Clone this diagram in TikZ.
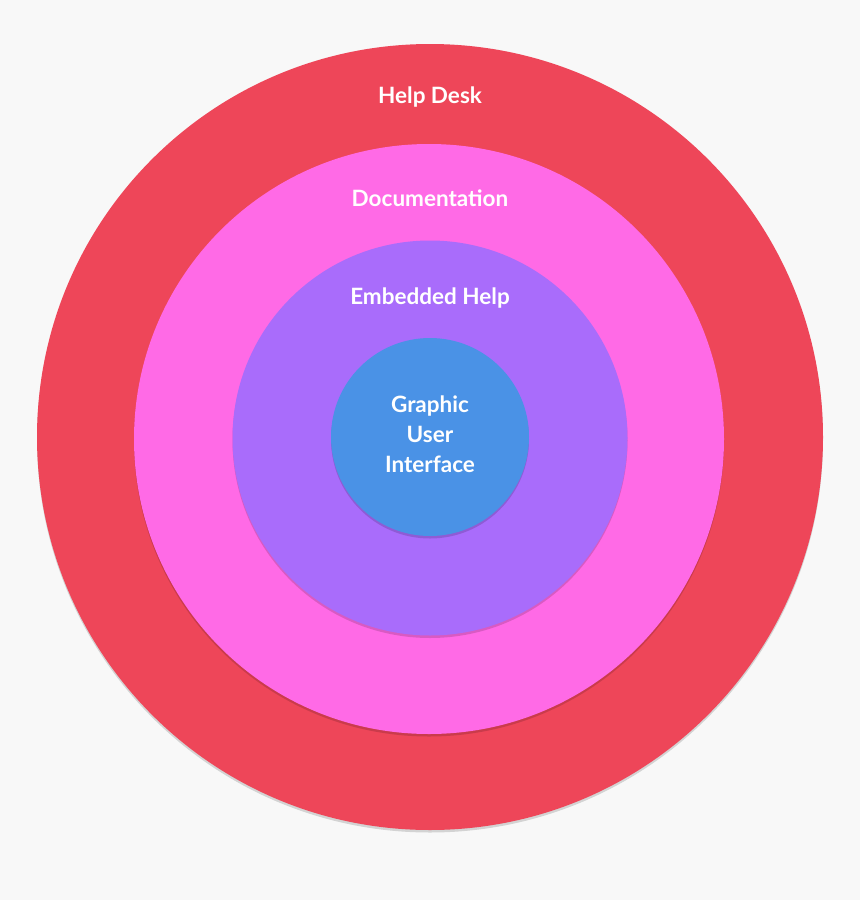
\documentclass[tikz,border=0pt]{standalone}
\usepackage{fontspec}
\setmainfont{Lato}
\usepackage{xcolor}
\usepackage{tikz}
\usetikzlibrary{shadows}

\definecolor{bgGray}{HTML}{F8F8F8}
\definecolor{deskRed}{HTML}{EE4659}
\definecolor{docPink}{HTML}{FF6AE6}
\definecolor{embPurple}{HTML}{A96CFB}
\definecolor{guiBlue}{HTML}{4A92E6}

\begin{document}
\begin{tikzpicture}[
  x=1pt, y=-1pt,
  ring/.style={circle, inner sep=0pt, draw=none,
    drop shadow={shadow xshift=0pt, shadow yshift=-2.5pt, opacity=0.15, fill=black}},
  lbl/.style={text=white, font=\fontsize{22.5}{30}\selectfont\bfseries, align=center}]
  % --- canvas ---
  \fill[bgGray] (0,0) rectangle (860,900);
  \useasboundingbox (0,0) rectangle (860,900);
  % --- rings, outer to inner ---
  \node[ring, fill=deskRed,   minimum size=786pt] (desk) at (430,437) {};
  \node[ring, fill=docPink,   minimum size=590pt] (doc)  at (429,439) {};
  \node[ring, fill=embPurple, minimum size=395pt] (emb)  at (430,438) {};
  \node[ring, fill=guiBlue,   minimum size=198pt] (gui)  at (430,437) {};
  % --- labels ---
  \node[lbl] (deskLbl) at (430,97)  {Help Desk};
  \node[lbl] (docLbl)  at (430,198) {Documentation};
  \node[lbl] (embLbl)  at (430,298) {Embedded Help};
  \node[lbl] (guiLbl)  at (430,434) {Graphic\\User\\Interface};
\end{tikzpicture}
\end{document}
